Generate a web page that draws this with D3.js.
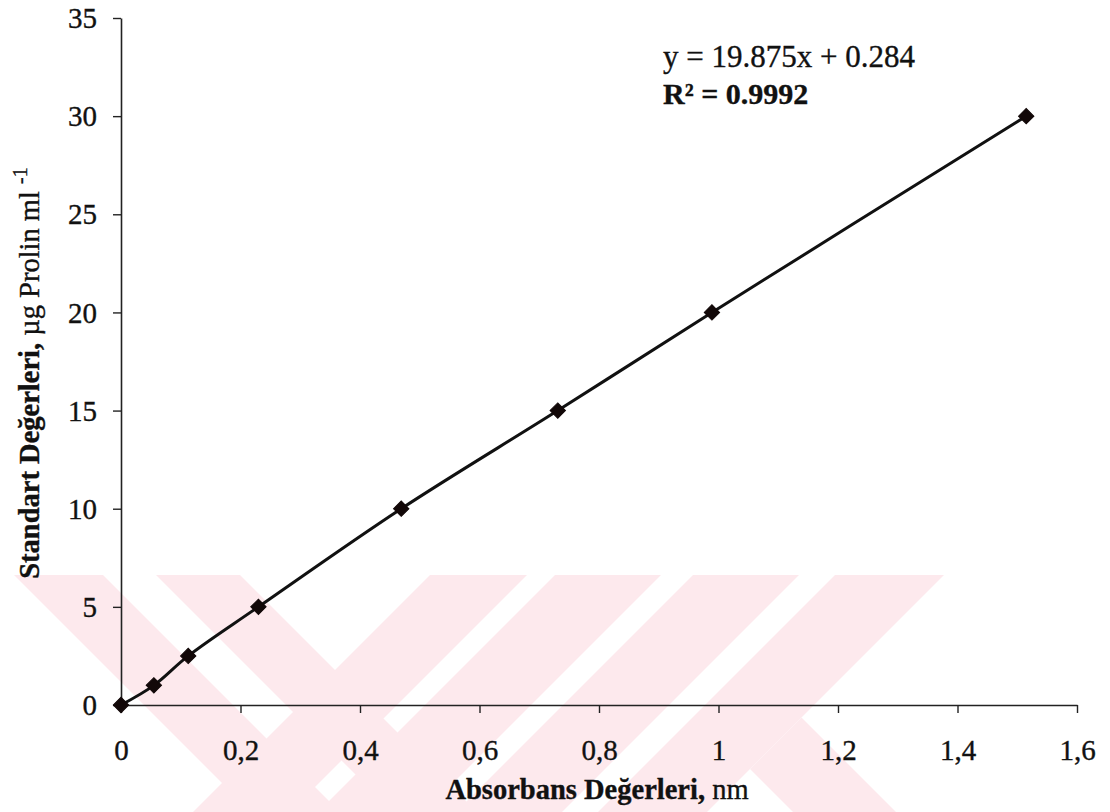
<!DOCTYPE html>
<html><head><meta charset="utf-8">
<script src="https://cdn.jsdelivr.net/npm/d3@7/dist/d3.min.js"></script>
<style>
body{margin:0;background:#fff}
svg{display:block}
text{font-family:"Liberation Serif","Times New Roman",serif;fill:#111;stroke:#111;stroke-width:0.35px}
</style>
</head><body>
<svg id="chart" width="1110" height="812"></svg>
<script>
// ---- data ----
const absorbance = [0, 0.055, 0.1125, 0.23, 0.469, 0.731, 0.989, 1.515];
const standard   = [0, 1, 2.5, 5, 10, 15, 20, 30];
const xTicks      = [0, 0.2, 0.4, 0.6, 0.8, 1.0, 1.2, 1.4, 1.6];
const xTickLabels = ["0", "0,2", "0,4", "0,6", "0,8", "1", "1,2", "1,4", "1,6"];
const yTicks      = [0, 5, 10, 15, 20, 25, 30, 35];
const yTickLabels = ["0", "5", "10", "15", "20", "25", "30", "35"];
const xTitleBold = "Absorbans Değerleri,";
const xTitleNorm = " nm";
const yTitleBold = "Standart Değerleri,";
const yTitleNorm = " µg Prolin ml ";
const yTitleSup  = "-1";
const eqLine  = "y = 19.875x + 0.284";
const r2Line  = "R² = 0.9992";

(function(){
const svg = d3.select("#chart");

// ---- background watermark (pale pink diagonal bands) ----
const wm = svg.append("g").attr("fill", "#fde9ed");
const wTop = 575, wBot = 812, span = wBot - wTop;
const back = [[14,103],[156,240]];            // "\" bands, x-range at top edge
const fwd  = [[430,527],[555,661],[693,799],[835,944]]; // "/" bands
back.forEach(([a,b]) => wm.append("path").attr("d",
  d3.line()([[a,wTop],[b,wTop],[b+span,wBot],[a+span,wBot]])));
fwd.forEach(([a,b]) => wm.append("path").attr("d",
  d3.line()([[a,wTop],[b,wTop],[b-span,wBot],[a-span,wBot]])));
wm.append("path").attr("d", d3.line()([[801.5,717.5],[896,812],[793,812],[750,769]]));

// ---- scales ----
const x = d3.scaleLinear().domain([0, 1.6]).range([121, 1077]);
const y = d3.scaleLinear().domain([0, 35]).range([705, 18]);

// ---- axes ----
const xAxis = svg.append("g").attr("transform", `translate(0,${y(0)})`)
  .call(d3.axisBottom(x).tickValues(xTicks).tickSize(8).tickSizeOuter(0).tickFormat((d,i)=>xTickLabels[i]));
xAxis.select(".domain").attr("stroke","#222").attr("stroke-width",1.6);
xAxis.selectAll(".tick line").attr("stroke","#222").attr("stroke-width",1.4);
xAxis.selectAll(".tick text").attr("font-size",29).attr("y",null).attr("dy",null)
  .attr("transform","translate(0,55)").attr("font-family",'"Liberation Serif",serif').attr("fill","#111");

const yAxis = svg.append("g").attr("transform", `translate(${x(0)},0)`)
  .call(d3.axisLeft(y).tickValues(yTicks).tickSize(8).tickSizeOuter(0).tickFormat((d,i)=>yTickLabels[i]));
yAxis.select(".domain").attr("stroke","#222").attr("stroke-width",1.6);
yAxis.selectAll(".tick line").attr("stroke","#222").attr("stroke-width",1.4);
yAxis.selectAll(".tick text").attr("font-size",29).attr("x",-24).attr("dy","0.33em")
  .attr("font-family",'"Liberation Serif",serif').attr("fill","#111");

// ---- smoothed line ----
const pts = absorbance.map((a,i)=>[a, standard[i]]);
svg.append("path").datum(pts)
  .attr("fill","none").attr("stroke","#111").attr("stroke-width",3)
  .attr("d", d3.line().x(d=>x(d[0])).y(d=>y(d[1])).curve(d3.curveCatmullRom.alpha(0.5)));

// ---- diamond markers ----
svg.append("g").selectAll("path").data(pts).join("path")
  .attr("d", d3.symbol(d3.symbolSquare, 118))
  .attr("transform", d=>`translate(${x(d[0])},${y(d[1])}) rotate(45)`)
  .attr("fill","#120808").attr("stroke","#120808").attr("stroke-width",1);

// ---- axis titles ----
const xt = svg.append("text").attr("x", 597).attr("y", 799).attr("text-anchor","middle").attr("font-size",28.5);
xt.append("tspan").attr("font-weight","bold").text(xTitleBold);
xt.append("tspan").text(xTitleNorm);

const yt = svg.append("text").attr("transform","translate(39,373) rotate(-90)")
  .attr("text-anchor","middle").attr("font-size",28.5);
yt.append("tspan").attr("font-weight","bold").text(yTitleBold);
yt.append("tspan").text(yTitleNorm);
yt.append("tspan").attr("font-size",20).attr("dy",-12).text(yTitleSup);

// ---- regression annotation ----
svg.append("text").attr("x",663).attr("y",67).attr("font-size",31).text(eqLine);
svg.append("text").attr("x",663).attr("y",104).attr("font-size",30).attr("font-weight","bold").text(r2Line);
})();
</script>
</body></html>
